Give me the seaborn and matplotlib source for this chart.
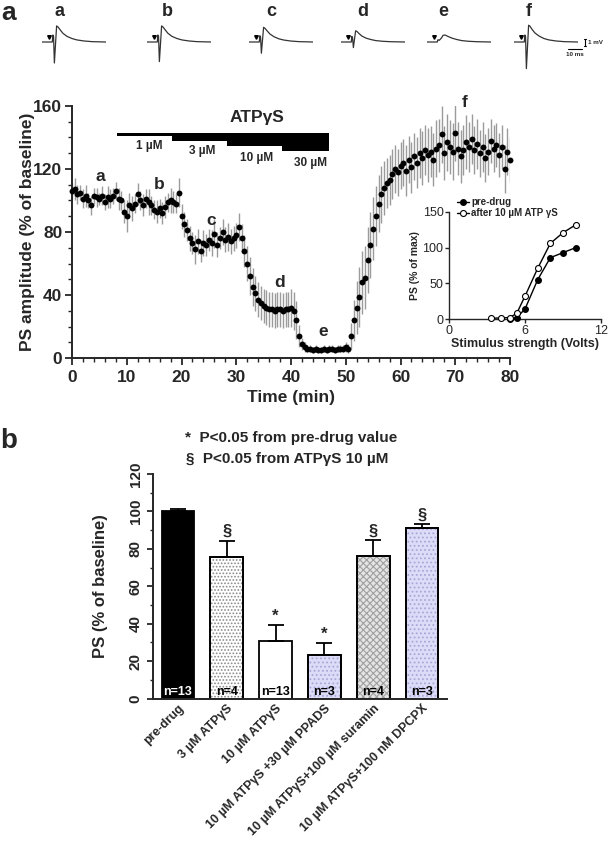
import numpy as np
import pandas as pd
import matplotlib
matplotlib.use('Agg')
import matplotlib.pyplot as plt
from matplotlib.patches import Rectangle
from matplotlib.lines import Line2D
from matplotlib.ticker import MultipleLocator
import seaborn as sns

# ---------------- data ----------------
# time course (0 .. 80 min every 0.5 min)
ps_mean = [106, 107, 104, 105, 101, 103, 100, 97, 103, 102, 101, 103, 99, 102, 101, 103, 106, 101, 100, 93,
           90, 97, 95, 98, 104, 100, 97, 101, 99, 97, 94, 93, 95, 92, 96, 99, 100, 99, 98, 105,
           90, 85, 81, 76, 73, 69, 74, 68, 73, 72, 75, 73, 79, 72, 76, 80, 75, 77, 74, 76,
           78, 83, 76, 68, 60, 52, 45, 41, 37, 35, 33, 32, 31, 31, 30, 31, 31, 30, 31, 31, 32, 30,
           24, 14, 9, 7, 6, 6, 5, 6, 5, 5, 6, 5, 6, 6, 5, 6, 6, 6, 7, 6,
           14, 24, 32, 39, 48, 51, 62, 72, 82, 90, 98, 104, 108, 111, 113, 117, 120, 118, 122,
           124, 119, 126, 121, 128, 124, 130, 127, 132, 129, 131, 126, 133, 135, 142, 130, 137, 134, 131, 143,
           133, 128, 132, 137, 134, 139, 132, 136, 130, 134, 127, 131, 138, 133, 135, 129, 134, 120, 131, 126]
ps_sem = [5, 7, 6, 5, 6, 7, 5, 6, 5, 6, 4, 6, 5, 7, 6, 5, 6, 7, 6, 7, 10, 8, 8, 6, 7, 6, 7, 6, 8, 6, 6, 7, 6, 7, 7, 6, 8, 7, 6, 9,
          8, 8, 7, 8, 7, 9, 8, 7, 8, 7, 7, 8, 9, 8, 7, 8, 8, 9, 8, 8,
          8, 9, 9, 10, 11, 12, 12, 11, 11, 11, 11, 11, 11, 11, 11, 11, 11, 11, 11, 11, 12, 12,
          12, 7, 4, 3, 2, 2, 2, 2, 2, 2, 2, 2, 2, 2, 2, 2, 2, 2, 3, 3,
          8, 13, 17, 19, 20, 20, 21, 21, 20, 19, 18, 18, 17, 16, 16, 16, 15, 15, 15,
          15, 16, 15, 16, 15, 16, 16, 17, 16, 17, 16, 17, 18, 17, 18, 17, 18, 17, 18, 18,
          17, 17, 16, 17, 16, 16, 15, 16, 15, 16, 15, 15, 14, 15, 14, 14, 14, 15, 15, 14]
time_min = np.arange(len(ps_mean)) * 0.5

# ATPγS application staircase
atp_conc = ['1 µM', '3 µM', '10 µM', '30 µM']
atp_start = [8.3, 18.2, 28.3, 38.3]
atp_end = 47.0
atp_top = 142.7
atp_bottom = [141.0, 138.0, 134.7, 131.5]

# time-point letters
tp_letters = ['a', 'b', 'c', 'd', 'e', 'f']
tp_x = [5.2, 16.0, 25.5, 38.0, 45.8, 71.8]
tp_y = [115, 110, 87, 48, 17, 162]

# inset input/output curves
volts_pre = [4.8, 5.35, 6.0, 7.0, 8.0, 9.0, 10.0]
ps_pre = [0, 2, 14, 55, 86, 93, 100]
volts_atp = [3.3, 4.1, 4.8, 5.35, 6.0, 7.0, 8.0, 9.0, 10.0]
ps_atp = [1, 1.5, 2, 8, 32, 71, 106, 121, 132]

# example traces (ms, mV)
tr_time = [0, 7.4, 7.8, 8.3, 8.9, 10.5, 11.5, 13, 15, 18, 21.5, 25, 30, 36, 46]
traces = {
    'a': [0, 0, 1.0, 0.8, -3.0, 2.3, 2.15, 1.75, 1.25, 0.8, 0.5, 0.3, 0.15, 0.05, 0],
    'b': [0, 0, 1.0, 0.8, -2.8, 2.3, 2.15, 1.75, 1.25, 0.8, 0.5, 0.3, 0.15, 0.05, 0],
    'c': [0, 0, 0.9, 0.7, -1.6, 2.1, 1.95, 1.6, 1.15, 0.75, 0.45, 0.28, 0.14, 0.05, 0],
    'd': [0, 0, 0.8, 0.6, -0.8, 1.6, 1.5, 1.2, 0.85, 0.55, 0.35, 0.2, 0.1, 0.04, 0],
    'e': [0, 0, 0.3, 0.3, 0.25, 0.6, 0.95, 1.0, 0.8, 0.55, 0.35, 0.2, 0.1, 0.04, 0],
    'f': [0, 0, 1.0, 0.8, -3.8, 2.4, 2.25, 1.8, 1.3, 0.85, 0.5, 0.3, 0.15, 0.05, 0],
}
trace_left_px = [42, 147, 249, 341, 427, 514]
trace_letter_px = [59, 167, 271, 363, 443, 529]

# bar chart (panel b)
conds = ['pre-drug', '3 µM ATPγS', '10 µM ATPγS', '10 µM ATPγS +30 µM PPADS',
         '10 µM ATPγS+100 µM suramin', '10 µM ATPγS+100 nM DPCPX']
ps_vals = [100, 75.8, 31, 23, 76.2, 91]
ps_err = [1.3, 8.4, 8.2, 6.4, 8.3, 2.2]
n_labels = ['n=13', 'n=4', 'n=13', 'n=3', 'n=4', 'n=3']
sig_marks = ['', '§', '*', '*', '§', '§']

# ---------------- style ----------------
sns.set_theme(style='ticks')
plt.rcParams['font.family'] = ['Liberation Sans', 'DejaVu Sans']
plt.rcParams['font.weight'] = 'bold'
plt.rcParams['axes.labelweight'] = 'bold'
plt.rcParams['axes.linewidth'] = 1.4
plt.rcParams['hatch.linewidth'] = 0.8

W, H = 609, 842
fig = plt.figure(figsize=(W / 100, H / 100), dpi=100)
fig.patch.set_facecolor('white')


def rect(l, t, r, b):
    return [l / W, 1 - b / H, (r - l) / W, (b - t) / H]


def fx(px):
    return px / W


def fy(py):
    return 1 - py / H


# ---------------- traces ----------------
for key, lpx, letpx in zip(traces.keys(), trace_left_px, trace_letter_px):
    axt = fig.add_axes(rect(lpx, 19.6, lpx + 64, 72.1))
    axt.plot(tr_time, traces[key], color='#333333', lw=0.9)
    axt.plot([5.0], [0.65], marker='v', ms=2.6, color='black')
    axt.set_xlim(0, 46)
    axt.set_ylim(-4.3, 3.2)
    axt.axis('off')
    fig.text(fx(letpx), fy(11.5), key, ha='center', va='center', fontsize=13, weight='bold')

# scale bars
fig.add_artist(Line2D([fx(585), fx(585)], [fy(39), fy(46)], color='black', lw=0.8))
fig.add_artist(Line2D([fx(584), fx(586)], [fy(39), fy(39)], color='black', lw=0.8))
fig.add_artist(Line2D([fx(584), fx(586)], [fy(46), fy(46)], color='black', lw=0.8))
fig.text(fx(588), fy(42.5), '1 mV', fontsize=4.5, va='center', ha='left')
fig.add_artist(Line2D([fx(568), fx(582)], [fy(49), fy(49)], color='black', lw=0.8))
fig.text(fx(575), fy(55), '10 ms', fontsize=4.5, va='center', ha='center')

fig.text(fx(1), fy(1), 'a', fontsize=19, weight='bold', va='top', ha='left')

# ---------------- main time course ----------------
ax = fig.add_axes(rect(72, 106, 510, 358))
ax.errorbar(time_min, ps_mean, yerr=ps_sem, fmt='none', ecolor='#9b9b9b', elinewidth=1.0, zorder=2)
sns.scatterplot(x=time_min, y=ps_mean, ax=ax, color='black', s=18, linewidth=0, zorder=3, clip_on=False)
ax.set_xlim(0, 80)
ax.set_ylim(0, 160)
ax.set_xticks(range(0, 81, 10))
ax.set_yticks(range(0, 161, 40))
ax.xaxis.set_minor_locator(MultipleLocator(2))
ax.yaxis.set_minor_locator(MultipleLocator(10))
ax.tick_params(which='major', labelsize=12.5, width=1.3, length=5, direction='out')
ax.tick_params(axis='y', which='major', pad=2)
ax.tick_params(which='minor', width=1.0, length=3, direction='out')
for lab in ax.get_xticklabels() + ax.get_yticklabels():
    lab.set_fontweight('bold')
sns.despine(ax=ax)
ax.set_xlabel('Time (min)', fontsize=12.5, weight='bold')
ax.xaxis.set_label_coords(0.5, -0.128)
ax.set_ylabel('PS amplitude (% of baseline)', fontsize=12.5, weight='bold')
ax.yaxis.set_label_coords(-0.084, 0.5)

# ATPγS staircase
durs = list(np.diff(atp_start + [atp_end]))
ax.bar(atp_start, [atp_top - b for b in atp_bottom], width=durs, bottom=atp_bottom,
       align='edge', color='black', linewidth=0, clip_on=False, zorder=4)
conc_x = [14.1, 23.8, 33.8, 43.6]
conc_y = [134.7, 131.5, 127.3, 123.5]
for c, x, y in zip(atp_conc, conc_x, conc_y):
    ax.text(x, y, c, ha='center', va='center', fontsize=8.5, weight='bold')
ax.text(33.7, 152.5, 'ATPγS', ha='center', va='center', fontsize=12.5, weight='bold')
for l, x, y in zip(tp_letters, tp_x, tp_y):
    ax.text(x, y, l, ha='center', va='center', fontsize=12.5, weight='bold')

# ---------------- inset ----------------
axi = fig.add_axes(rect(449, 212, 601, 319))
axi.patch.set_alpha(0)
axi.plot(volts_pre, ps_pre, '-o', color='black', mfc='black', mec='black', ms=4, lw=1.0,
         clip_on=False, label='pre-drug', zorder=3)
axi.plot(volts_atp, ps_atp, '-o', color='black', mfc='white', mec='black', ms=4.3, lw=1.0,
         mew=0.8, clip_on=False, label='after 10 µM ATP γS', zorder=4)
axi.set_xlim(0, 12)
axi.set_ylim(0, 150)
axi.set_xticks([0, 6, 12])
axi.set_yticks([0, 50, 100, 150])
axi.tick_params(labelsize=9, width=1.0, length=3, pad=1)
for lab in axi.get_xticklabels() + axi.get_yticklabels():
    lab.set_fontweight('normal')
for s in axi.spines.values():
    s.set_linewidth(1.0)
sns.despine(ax=axi)
axi.set_xlabel('Stimulus strength (Volts)', fontsize=9, weight='bold', labelpad=1)
axi.set_ylabel('PS (% of max)', fontsize=7.5, weight='bold', labelpad=2)
leg = axi.legend(loc='upper left', bbox_to_anchor=(0.05, 1.14), frameon=False,
                 prop={'size': 7, 'weight': 'bold'}, handlelength=1.3, handletextpad=0.2,
                 labelspacing=0.15, borderpad=0, borderaxespad=0)

# ---------------- panel b ----------------
fig.text(fx(0), fy(448), 'b', fontsize=20, weight='bold', va='baseline', ha='left')
fig.text(fx(291), fy(438), '*  P<0.05 from pre-drug value', ha='center', va='center',
         fontsize=11, weight='bold')
fig.text(fx(287), fy(459), '§  P<0.05 from ATPγS 10 µM', ha='center', va='center',
         fontsize=11, weight='bold')

axb = fig.add_axes(rect(153, 474, 447, 698.5))
df = pd.DataFrame({'cond': conds, 'ps': ps_vals})
bar_colors = ['black', 'white', 'white', '#dcdcf8', '#e4e4e4', '#dcdcf8']
hatches = [None, '.....', None, '....', 'xxxxx', '....']
hatch_cols = [None, '#8a8a8a', None, '#a8a8d6', '#a0a0a0', '#a8a8d6']
sns.barplot(data=df, x='cond', y='ps', hue='cond', palette=bar_colors, width=0.67,
            edgecolor='black', linewidth=1.3, ax=axb, legend=False, errorbar=None,
            saturation=1)
for p, h, hc in zip(axb.patches, hatches, hatch_cols):
    if h:
        r = Rectangle((p.get_x(), p.get_y()), p.get_width(), p.get_height(), facecolor='none',
                      edgecolor=hc, linewidth=0, hatch=h, zorder=p.get_zorder() + 0.1)
        axb.add_patch(r)
        bx = Rectangle((p.get_x(), p.get_y()), p.get_width(), p.get_height(), facecolor='none',
                       edgecolor='black', linewidth=1.3, zorder=p.get_zorder() + 0.2)
        axb.add_patch(bx)
xs = np.arange(len(conds))
axb.errorbar(xs, ps_vals, yerr=[np.zeros(len(xs)), ps_err], fmt='none', ecolor='black',
             elinewidth=1.3, capsize=6, capthick=1.3, zorder=5)
for i, (v, e, m, nl) in enumerate(zip(ps_vals, ps_err, sig_marks, n_labels)):
    if m:
        axb.text(i, v + e + 1.0, m, ha='center', va='bottom', fontsize=12, weight='bold')
    axb.text(i, 3.5, nl, ha='center', va='center', fontsize=9, weight='bold',
             color='white' if i == 0 else 'black', zorder=6)
axb.set_xlim(-0.51, 5.51)
axb.set_ylim(0, 120)
axb.set_yticks(range(0, 121, 20))
axb.yaxis.set_minor_locator(MultipleLocator(10))
axb.tick_params(axis='y', which='major', labelsize=11, width=1.3, length=4, rotation=90)
axb.tick_params(axis='y', which='minor', width=1.0, length=2.5)
axb.tick_params(axis='x', length=0, pad=3)
for lab in axb.get_yticklabels():
    lab.set_fontweight('bold')
    lab.set_va('center')
axb.set_xticks(xs)
axb.set_xticklabels(conds, rotation=45, ha='right', rotation_mode='anchor', fontsize=9,
                    fontweight='bold')
sns.despine(ax=axb)
axb.set_xlabel('')
axb.set_ylabel('PS (% of baseline)', fontsize=12, weight='bold')
axb.yaxis.set_label_coords((108 - 153) / 294, 0.5)

fig.savefig('out.png', dpi=100)
